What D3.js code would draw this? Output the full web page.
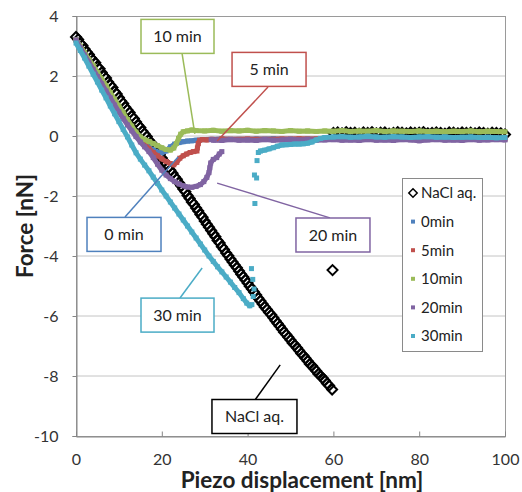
<!DOCTYPE html>
<html>
<head>
<meta charset="utf-8">
<script src="https://cdn.jsdelivr.net/npm/d3@7"></script>
<style>
  body { margin: 0; background: #fff; }
  svg { font-family: Lato, "Open Sans", sans-serif; }
</style>
</head>
<body>
<svg id="chart"></svg>
<script>
// Axis ticks
const xTicks = [0, 20, 40, 60, 80, 100];
const yTicks = [-10, -8, -6, -4, -2, 0, 2, 4];

// NaCl aq. (open diamonds): contact line, one jump point, then flat part
const naclData = [
  [0,3.3],[0.5,3.22],[1,3.08],[1.5,3.02],[2,2.9],[2.5,2.8],[3,2.72],[3.5,2.6],[4,2.52],[4.5,2.44],
  [5,2.3],[5.5,2.24],[6,2.12],[6.5,2.0],[7,1.93],[7.5,1.8],[8,1.7],[8.5,1.62],[9,1.48],[9.5,1.4],
  [10,1.28],[10.5,1.17],[11,1.08],[11.5,0.96],[12,0.87],[12.5,0.78],[13,0.66],[13.5,0.58],[14,0.47],[14.5,0.36],
  [15,0.28],[15.5,0.16],[16,0.07],[16.5,-0.02],[17,-0.14],[17.5,-0.22],[18,-0.33],[18.5,-0.42],[19,-0.54],[19.5,-0.62],
  [20,-0.73],[20.5,-0.84],[21,-0.93],[21.5,-1.05],[22,-1.14],[22.5,-1.24],[23,-1.36],[23.5,-1.44],[24,-1.56],[24.5,-1.66],
  [25,-1.77],[25.5,-1.86],[26,-1.98],[26.5,-2.08],[27,-2.2],[27.5,-2.28],[28,-2.4],[28.5,-2.5],[29,-2.62],[29.5,-2.71],
  [30,-2.83],[30.5,-2.94],[31,-3.04],[31.5,-3.15],[32,-3.26],[32.5,-3.36],[33,-3.48],[33.5,-3.57],[34,-3.69],[34.5,-3.78],
  [35,-3.9],[35.5,-3.99],[36,-4.1],[36.5,-4.2],[37,-4.3],[37.5,-4.39],[38,-4.5],[38.5,-4.61],[39,-4.7],[39.5,-4.8],
  [40,-4.9],[40.5,-5.01],[41,-5.1],[41.5,-5.2],[42,-5.3],[42.5,-5.41],[43,-5.5],[43.5,-5.6],[44,-5.7],[44.5,-5.78],
  [45,-5.88],[45.5,-5.96],[46,-6.06],[46.5,-6.16],[47,-6.25],[47.5,-6.34],[48,-6.44],[48.5,-6.54],[49,-6.62],[49.5,-6.71],
  [50,-6.8],[50.5,-6.9],[51,-6.97],[51.5,-7.06],[52,-7.15],[52.5,-7.25],[53,-7.32],[53.5,-7.41],[54,-7.5],[54.5,-7.6],
  [55,-7.66],[55.5,-7.75],[56,-7.83],[56.5,-7.93],[57,-7.99],[57.5,-8.07],[58,-8.15],[58.5,-8.25],[59,-8.32],[59.7,-8.45],
  [59.8,-4.47],
  [60,0.1],[61,0.12],[62,0.09],[63,0.13],[64,0.1],[65,0.11],[66,0.08],[67,0.12],[68,0.1],[69,0.13],
  [70,0.09],[71,0.11],[72,0.12],[73,0.08],[74,0.1],[75,0.13],[76,0.11],[77,0.09],[78,0.12],[79,0.1],
  [80,0.11],[81,0.13],[82,0.09],[83,0.1],[84,0.12],[85,0.1],[86,0.08],[87,0.12],[88,0.11],[89,0.09],
  [90,0.12],[91,0.1],[92,0.11],[93,0.09],[94,0.12],[95,0.1],[96,0.08],[97,0.11],[98,0.1],[99,0.09],[100,0.05]
];

// 0 min
const min0Data = [
  [0,3.22],[1,2.98],[2,2.75],[3,2.52],[4,2.3],[5,2.07],[6,1.84],[7,1.6],[8,1.37],[9,1.14],
  [10,0.9],[11,0.67],[12,0.44],[13,0.22],[14,0.0],[15,-0.15],[16,-0.27],[17,-0.37],[18,-0.46],[19,-0.53],
  [20,-0.56],[21,-0.5],[22,-0.36],[23,-0.27],[24,-0.22],[25,-0.19],[26,-0.17],[27,-0.16],[28,-0.14],[30,-0.12],
  [34,-0.1],[38,-0.11],[42,-0.1],[46,-0.09],[50,-0.11],[54,-0.1],[58,-0.09],[62,-0.1],[66,-0.11],[70,-0.1],
  [74,-0.09],[78,-0.1],[82,-0.11],[86,-0.1],[90,-0.09],[94,-0.1],[98,-0.11],[100,-0.1]
];

// 5 min: descent + curl, then the jump to the flat part
const min5Contact = [
  [0,3.2],[1,2.97],[2,2.75],[3,2.52],[4,2.3],[5,2.07],[6,1.84],[7,1.6],[8,1.38],[9,1.15],
  [10,0.92],[11,0.7],[12,0.48],[13,0.27],[14,0.07],[15,-0.12],[16,-0.28],[17,-0.42],[18,-0.55],[19,-0.66],
  [20,-0.76],[21,-0.85],[22,-0.92],[22.8,-0.96],[23.5,-0.88],[24.2,-0.74],[25,-0.66],[25.8,-0.6],[26.6,-0.55],[27.4,-0.52],[28.2,-0.5]
];
const min5Free = [
  [28.3,-0.4],[28.5,-0.25],[28.8,-0.14],[29.5,-0.12],[30.5,-0.13],[31.5,-0.11],[32.5,-0.12],[34,-0.1],[36,-0.11],[40,-0.1],
  [44,-0.11],[48,-0.1],[52,-0.09],[56,-0.1],[60,-0.11],[64,-0.1],[68,-0.09],[72,-0.1],[76,-0.11],[80,-0.1],
  [84,-0.09],[88,-0.1],[92,-0.11],[96,-0.1],[100,-0.1]
];

// 10 min
const min10Data = [
  [0,3.2],[1,3.0],[2,2.78],[3,2.55],[4,2.35],[5,2.12],[6,1.9],[7,1.68],[8,1.45],[9,1.22],
  [10,1.0],[11,0.78],[12,0.55],[13,0.33],[14,0.13],[15,-0.03],[16,-0.12],[17,-0.18],[18,-0.25],[19,-0.32],
  [20,-0.39],[21,-0.45],[22,-0.47],[22.8,-0.4],[23.4,-0.25],[23.9,-0.08],[24.4,0.06],[25,0.14],[26,0.17],[27,0.2],
  [28,0.18],[30,0.17],[32,0.19],[34,0.16],[36,0.18],[38,0.17],[40,0.19],[42,0.16],[44,0.18],[46,0.17],
  [48,0.15],[50,0.18],[52,0.16],[54,0.17],[56,0.15],[58,0.17],[60,0.16],[62,0.18],[64,0.15],[66,0.17],
  [68,0.16],[70,0.18],[72,0.15],[74,0.17],[76,0.16],[78,0.15],[80,0.17],[82,0.15],[84,0.16],[86,0.14],
  [88,0.16],[90,0.15],[92,0.17],[94,0.14],[96,0.16],[98,0.15],[100,0.14]
];

// 20 min: descent + loop, then flat part
const min20Contact = [
  [0,3.2],[1,2.95],[2,2.7],[3,2.46],[4,2.22],[5,1.98],[6,1.74],[7,1.5],[8,1.27],[9,1.03],
  [10,0.8],[11,0.58],[12,0.37],[13,0.17],[14,-0.02],[15,-0.2],[16,-0.36],[17,-0.52],[18,-0.72],[19,-0.94],
  [20,-1.14],[21,-1.3],[22,-1.42],[23,-1.52],[24,-1.6],[25,-1.66],[26,-1.7],[27,-1.71],[28,-1.68],[29,-1.62],
  [29.8,-1.52],[30.5,-1.38],[31,-1.22],[31.2,-1.06],[31.4,-0.9],[32,-0.78],[32.8,-0.72],[33.4,-0.6],[34,-0.52]
];
const min20Free = [
  [31.5,-0.12],[32,-0.14],[33,-0.13],[34,-0.15],[36,-0.12],[38,-0.14],[40,-0.13],[42,-0.15],[44,-0.12],[46,-0.14],
  [48,-0.13],[50,-0.11],[52,-0.13],[54,-0.12],[56,-0.14],[58,-0.13],[60,-0.12],[62,-0.14],[64,-0.13],[66,-0.15],
  [68,-0.12],[70,-0.14],[72,-0.13],[74,-0.15],[76,-0.12],[78,-0.13],[80,-0.16],[82,-0.13],[84,-0.12],[86,-0.14],
  [88,-0.13],[90,-0.15],[92,-0.12],[94,-0.14],[96,-0.13],[98,-0.12],[100,-0.13]
];

// 30 min: descent, scattered jump points, flat part
const min30Contact = [
  [0,3.1],[1,2.85],[2,2.6],[3,2.33],[4,2.06],[5,1.8],[6,1.53],[7,1.27],[8,1.0],[9,0.74],
  [10,0.48],[11,0.22],[12,-0.03],[13,-0.3],[14,-0.56],[15,-0.77],[16,-0.97],[17,-1.16],[18,-1.37],[19,-1.58],
  [20,-1.8],[21,-2.0],[22,-2.2],[23,-2.4],[24,-2.6],[25,-2.8],[26,-3.0],[27,-3.2],[28,-3.4],[29,-3.6],
  [30,-3.8],[31,-4.0],[32,-4.18],[33,-4.36],[34,-4.53],[35,-4.7],[36,-4.87],[37,-5.05],[38,-5.22],[39,-5.42],
  [39.8,-5.57],[40.5,-5.66],[41,-5.62]
];
const min30Jump = [
  [41.3,-5.35],[41.5,-5.1],[41.2,-4.78],[40.9,-4.42],[41.7,-2.25],[41.6,-1.3],[42.1,-1.4],[42.2,-0.82]
];
const min30Free = [
  [42.5,-0.55],[43,-0.5],[44,-0.47],[45,-0.43],[46,-0.39],[47,-0.34],[48,-0.3],[49,-0.29],[50,-0.28],[51,-0.27],
  [52,-0.27],[53,-0.26],[54,-0.24],[55,-0.2],[56,-0.13],[57,-0.08],[58,-0.05],[60,-0.03],[62,-0.02],[64,-0.04],
  [66,-0.03],[68,-0.01],[70,-0.03],[72,-0.04],[74,-0.02],[76,-0.03],[78,-0.05],[80,-0.03],[82,-0.02],[84,-0.04],
  [86,-0.03],[88,-0.05],[90,-0.04],[92,-0.03],[94,-0.05],[96,-0.04],[98,-0.06],[100,-0.05]
];

// Legend entries and callout labels
const legendNames = ["NaCl aq.", "0min", "5min", "10min", "20min", "30min"];
const colors = ["#000000", "#4F81BD", "#C0504D", "#9BBB59", "#8064A2", "#4BACC6"];
const callouts = [
  { label: "10 min", color: "#9BBB59", box: [23.66, 3.32], w: 73, from: [24.7, 2.77], to: [27.7, 0.07] },
  { label: "5 min", color: "#C0504D", box: [45.0, 2.22], w: 74, from: [44.76, 1.63], to: [32.9, -0.17] },
  { label: "0 min", color: "#4F81BD", box: [11.19, -3.28], w: 74, from: [11.42, -2.7], to: [23.8, -0.7] },
  { label: "20 min", color: "#8064A2", box: [59.9, -3.3], w: 74, from: [59.2, -2.73], to: [32.9, -1.57] },
  { label: "30 min", color: "#4BACC6", box: [23.66, -5.97], w: 73, from: [24.24, -5.4], to: [29.4, -4.4] },
  { label: "NaCl aq.", color: "#000000", box: [41.6, -9.35], w: 85, from: [41.72, -8.8], to: [47.6, -7.63] }
];

const width = 522, height = 492;
const svg = d3.select("#chart").attr("width", width).attr("height", height);

const x = d3.scaleLinear().domain([0, 100]).range([76, 505]);
const y = d3.scaleLinear().domain([-10, 4]).range([436, 16]);

// gridlines
svg.append("g")
  .selectAll("line")
  .data(yTicks.filter((d) => d > -10 && d < 4))
  .enter()
  .append("line")
  .attr("x1", x(0)).attr("x2", x(100))
  .attr("y1", (d) => y(d)).attr("y2", (d) => y(d))
  .attr("stroke", "#c4c4c4");

// plot border
svg.append("rect")
  .attr("x", x(0) + 0.5).attr("y", y(4) + 0.5)
  .attr("width", x(100) - x(0)).attr("height", y(-10) - y(4))
  .attr("fill", "none").attr("stroke", "#9a9a9a");

// axes
const yAxis = svg.append("g")
  .attr("transform", `translate(${x(0) + 0.5},0)`)
  .call(d3.axisLeft(y).tickValues(yTicks).tickSize(4).tickPadding(14).tickFormat((d) => String(d)));
const xAxis = svg.append("g")
  .attr("transform", `translate(0,${y(-10) + 0.5})`)
  .call(d3.axisBottom(x).tickValues(xTicks).tickSizeInner(-5).tickSizeOuter(0).tickPadding(17));
[yAxis, xAxis].forEach((g) => {
  g.selectAll("path.domain").attr("stroke", "#858585");
  g.selectAll(".tick line").attr("stroke", "#858585");
  g.selectAll("text").attr("font-size", 16).attr("fill", "#333").attr("font-family", "Lato");
});

// axis titles
svg.append("text")
  .attr("x", 302).attr("y", 488)
  .attr("text-anchor", "middle")
  .attr("font-size", 22.5).attr("font-weight", "bold").attr("fill", "#222")
  .text("Piezo displacement [nm]");
svg.append("text")
  .attr("transform", "translate(33,226) rotate(-90)")
  .attr("text-anchor", "middle")
  .attr("font-size", 22.5).attr("font-weight", "bold").attr("fill", "#222")
  .text("Force [nN]");

const diamond = (r) => `M0,${-r}L${r},0L0,${r}L${-r},0Z`;
const line = d3.line().x((d) => x(d[0])).y((d) => y(d[1]));

// NaCl aq. series: open diamonds
svg.append("g")
  .selectAll("path")
  .data(naclData)
  .enter()
  .append("path")
  .attr("transform", (d) => `translate(${x(d[0])},${y(d[1])})`)
  .attr("d", diamond(5))
  .attr("fill", "none")
  .attr("stroke", "#000")
  .attr("stroke-width", 2);

// colored series: dense square markers
function drawSeries(segments, dots, color) {
  const g = svg.append("g");
  segments.forEach((seg) => {
    g.append("path")
      .attr("d", line(seg))
      .attr("fill", "none")
      .attr("stroke", color)
      .attr("stroke-width", 5)
      .attr("stroke-linejoin", "round");
  });
  const pts = segments.flat().concat(dots);
  g.selectAll("rect")
    .data(pts)
    .enter()
    .append("rect")
    .attr("x", (d) => x(d[0]) - 2.5)
    .attr("y", (d) => y(d[1]) - 2.5)
    .attr("width", 5)
    .attr("height", 5)
    .attr("fill", color);
}

drawSeries([min0Data], [], colors[1]);
drawSeries([min5Contact, min5Free], [], colors[2]);
drawSeries([min10Data], [], colors[3]);
drawSeries([min20Contact, min20Free], [], colors[4]);
drawSeries([min30Contact, min30Free], min30Jump, colors[5]);

// callouts
const cg = svg.append("g");
callouts.forEach((c) => {
  cg.append("line")
    .attr("x1", x(c.from[0])).attr("y1", y(c.from[1]))
    .attr("x2", x(c.to[0])).attr("y2", y(c.to[1]))
    .attr("stroke", c.color).attr("stroke-width", 1.5);
  const cx = x(c.box[0]), cy = y(c.box[1]);
  cg.append("rect")
    .attr("x", cx - c.w / 2).attr("y", cy - 17)
    .attr("width", c.w).attr("height", 34)
    .attr("fill", "#fff")
    .attr("stroke", c.color).attr("stroke-width", 1.5);
  cg.append("text")
    .attr("x", cx).attr("y", cy)
    .attr("dy", "0.36em")
    .attr("text-anchor", "middle")
    .attr("font-size", 16).attr("fill", "#222")
    .text(c.label);
});

// legend
const lg = svg.append("g");
lg.append("rect")
  .attr("x", 402.5).attr("y", 178.5)
  .attr("width", 80).attr("height", 173)
  .attr("fill", "#fff").attr("stroke", "#8a8a8a");
legendNames.forEach((name, i) => {
  const ly = 193 + i * 28.6;
  if (i === 0) {
    lg.append("path")
      .attr("transform", `translate(413,${ly})`)
      .attr("d", diamond(4.2))
      .attr("fill", "none").attr("stroke", "#000").attr("stroke-width", 1.5);
  } else {
    lg.append("rect")
      .attr("x", 411).attr("y", ly - 2)
      .attr("width", 4).attr("height", 4)
      .attr("fill", colors[i]);
  }
  lg.append("text")
    .attr("x", 421).attr("y", ly)
    .attr("dy", "0.36em")
    .attr("font-size", 15).attr("fill", "#222")
    .text(name);
});
</script>
</body>
</html>
